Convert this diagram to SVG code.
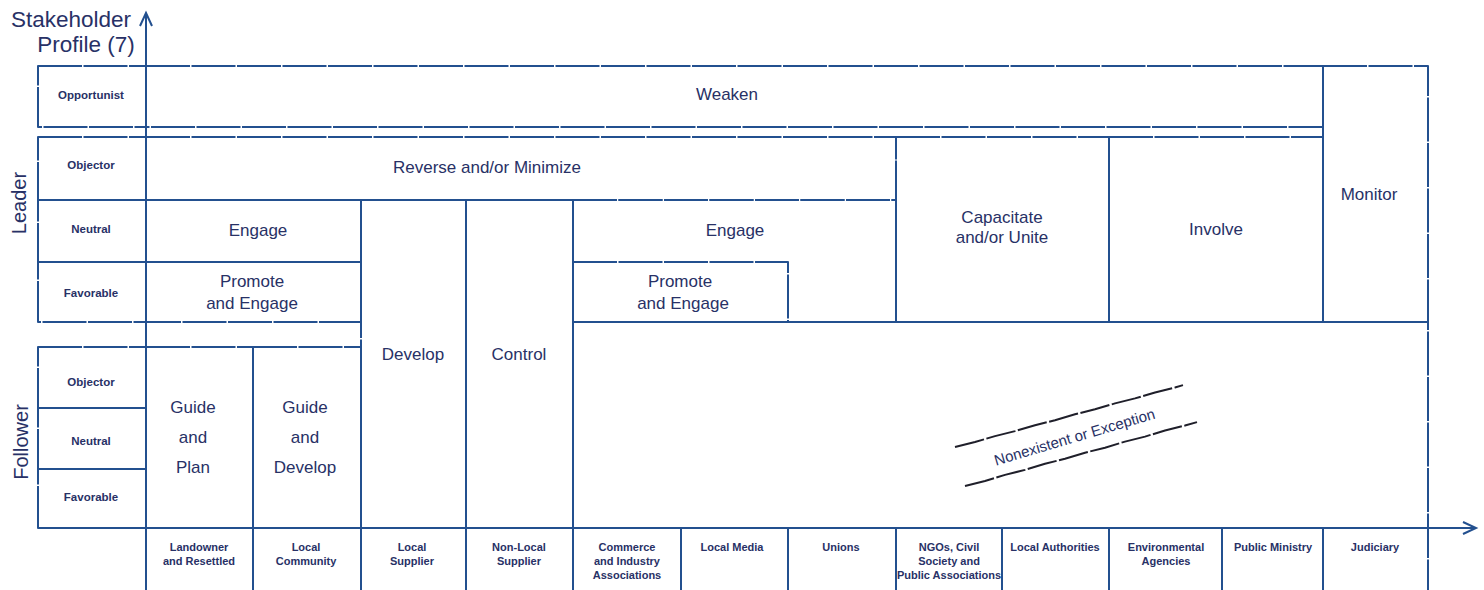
<svg xmlns="http://www.w3.org/2000/svg" width="1484" height="590" viewBox="0 0 1484 590">
<style>
.c{fill:none;stroke:#23508f;stroke-width:2;stroke-dasharray:44 1.5;stroke-linejoin:round}
.ax{fill:none;stroke:#23508f;stroke-width:2}
.w{fill:none;stroke:#1f1f2a;stroke-width:2;stroke-dasharray:30 2.5;stroke-linejoin:round}
text{font-family:"Liberation Sans",Arial,sans-serif;fill:#283166}
.s{font-size:11.5px;font-weight:bold;text-anchor:middle}
.b{font-size:11px;font-weight:bold;text-anchor:middle}
.m{font-size:17px;text-anchor:middle}
.ti{font-size:22.5px;text-anchor:middle}
.ve{font-size:20px;text-anchor:middle}
</style>
<defs>
<marker id="arr" markerWidth="20" markerHeight="20" refX="14" refY="7" orient="auto" markerUnits="userSpaceOnUse">
<polyline points="1,1 14,7 1,13" fill="none" stroke="#23508f" stroke-width="2"/>
</marker>
</defs>
<rect width="1484" height="590" fill="#ffffff"/>
<g id="title">
<text class="ti" x="71" y="27">Stakeholder</text>
<text class="ti" x="86" y="52">Profile (7)</text>
</g>
<g id="leader"><text class="ve" transform="translate(26,203) rotate(-90)">Leader</text></g>
<g id="follower"><text class="ve" transform="translate(28,442) rotate(-90)">Follower</text></g>

<g id="row-opportunist"><rect class="c" x="38" y="66" width="108" height="61"/><text class="s" x="91" y="99">Opportunist</text></g>
<g id="row-leader-objector"><rect class="c" x="38" y="137" width="108" height="63"/><text class="s" x="91" y="169">Objector</text></g>
<g id="row-leader-neutral"><rect class="c" x="38" y="200" width="108" height="62"/><text class="s" x="91" y="233">Neutral</text></g>
<g id="row-leader-favorable"><rect class="c" x="38" y="262" width="108" height="60"/><text class="s" x="91" y="297">Favorable</text></g>
<g id="row-follower-objector"><rect class="c" x="38" y="347" width="108" height="61"/><text class="s" x="91" y="386">Objector</text></g>
<g id="row-follower-neutral"><rect class="c" x="38" y="408" width="108" height="61"/><text class="s" x="91" y="445">Neutral</text></g>
<g id="row-follower-favorable"><rect class="c" x="38" y="469" width="108" height="59"/><text class="s" x="91" y="501">Favorable</text></g>

<g id="weaken"><rect class="c" x="146" y="66" width="1177" height="61"/><text class="m" x="727" y="100">Weaken</text></g>
<g id="monitor"><rect class="c" x="1323" y="66" width="105" height="256"/><text class="m" x="1369" y="200">Monitor</text></g>
<g id="reverse"><rect class="c" x="146" y="137" width="750" height="63"/><text class="m" x="487" y="173">Reverse and/or Minimize</text></g>
<g id="capacitate"><rect class="c" x="896" y="137" width="213" height="185"/><text class="m" x="1002" y="223">Capacitate</text><text class="m" x="1002" y="243">and/or Unite</text></g>
<g id="involve"><rect class="c" x="1109" y="137" width="214" height="185"/><text class="m" x="1216" y="235">Involve</text></g>
<g id="engage-left"><rect class="c" x="146" y="200" width="215" height="62"/><text class="m" x="258" y="236">Engage</text></g>
<g id="promote-left"><rect class="c" x="146" y="262" width="215" height="60"/><text class="m" x="252" y="287">Promote</text><text class="m" x="252" y="309">and Engage</text></g>
<g id="develop"><rect class="c" x="361" y="200" width="105" height="328"/><text class="m" x="413" y="360">Develop</text></g>
<g id="control"><rect class="c" x="466" y="200" width="107" height="328"/><text class="m" x="519" y="360">Control</text></g>
<g id="engage-right"><rect class="c" x="573" y="200" width="323" height="122"/><text class="m" x="735" y="236">Engage</text></g>
<g id="promote-right"><rect class="c" x="573" y="262" width="215" height="60"/><text class="m" x="680" y="287">Promote</text><text class="m" x="683" y="309">and Engage</text></g>
<g id="nonexistent"><rect class="c" x="573" y="322" width="855" height="206"/>
<path class="w" d="M955,447 l20,-5 l20,-5.9 l20,-5 l20,-5.9 l20,-5 l20,-5.9 l20,-5 l20,-5.9 l20,-5 l20,-5.9 l20,-5 l8,-2.4"/>
<path class="w" d="M965,486 l20,-5 l20,-6.1 l20,-5 l20,-6.1 l20,-5 l20,-6.1 l20,-5 l20,-6.1 l20,-5 l20,-6.1 l20,-5 l12,-3.4"/>
<text style="font-size:15px;text-anchor:middle" transform="translate(1076,442) rotate(-16.5)">Nonexistent or Exception</text></g>
<g id="guide-plan"><rect class="c" x="146" y="347" width="107" height="181"/><text class="m" x="193" y="413">Guide</text><text class="m" x="193" y="443">and</text><text class="m" x="193" y="473">Plan</text></g>
<g id="guide-develop"><rect class="c" x="253" y="347" width="108" height="181"/><text class="m" x="305" y="413">Guide</text><text class="m" x="305" y="443">and</text><text class="m" x="305" y="473">Develop</text></g>

<g id="col-landowner"><rect class="c" x="146" y="528" width="107" height="80"/><text class="b" x="199" y="551">Landowner</text><text class="b" x="199" y="565">and Resettled</text></g>
<g id="col-local-community"><rect class="c" x="253" y="528" width="108" height="80"/><text class="b" x="306" y="551">Local</text><text class="b" x="306" y="565">Community</text></g>
<g id="col-local-supplier"><rect class="c" x="361" y="528" width="105" height="80"/><text class="b" x="412" y="551">Local</text><text class="b" x="412" y="565">Supplier</text></g>
<g id="col-nonlocal-supplier"><rect class="c" x="466" y="528" width="107" height="80"/><text class="b" x="519" y="551">Non-Local</text><text class="b" x="519" y="565">Supplier</text></g>
<g id="col-commerce"><rect class="c" x="573" y="528" width="108" height="80"/><text class="b" x="627" y="551">Commerce</text><text class="b" x="627" y="565">and Industry</text><text class="b" x="627" y="579">Associations</text></g>
<g id="col-local-media"><rect class="c" x="681" y="528" width="107" height="80"/><text class="b" x="732" y="551">Local Media</text></g>
<g id="col-unions"><rect class="c" x="788" y="528" width="108" height="80"/><text class="b" x="841" y="551">Unions</text></g>
<g id="col-ngos"><rect class="c" x="896" y="528" width="106" height="80"/><text class="b" x="949" y="551">NGOs, Civil</text><text class="b" x="949" y="565">Society and</text><text class="b" x="949" y="579">Public Associations</text></g>
<g id="col-local-authorities"><rect class="c" x="1002" y="528" width="107" height="80"/><text class="b" x="1055" y="551">Local Authorities</text></g>
<g id="col-environmental"><rect class="c" x="1109" y="528" width="113" height="80"/><text class="b" x="1166" y="551">Environmental</text><text class="b" x="1166" y="565">Agencies</text></g>
<g id="col-public-ministry"><rect class="c" x="1222" y="528" width="101" height="80"/><text class="b" x="1273" y="551">Public Ministry</text></g>
<g id="col-judiciary"><rect class="c" x="1323" y="528" width="105" height="80"/><text class="b" x="1375" y="551">Judiciary</text></g>

<g id="connectors">
<line class="ax" x1="146" y1="590" x2="146" y2="13" marker-end="url(#arr)"/>
<line class="ax" x1="38" y1="528" x2="1476" y2="528" marker-end="url(#arr)"/>
</g>
</svg>
